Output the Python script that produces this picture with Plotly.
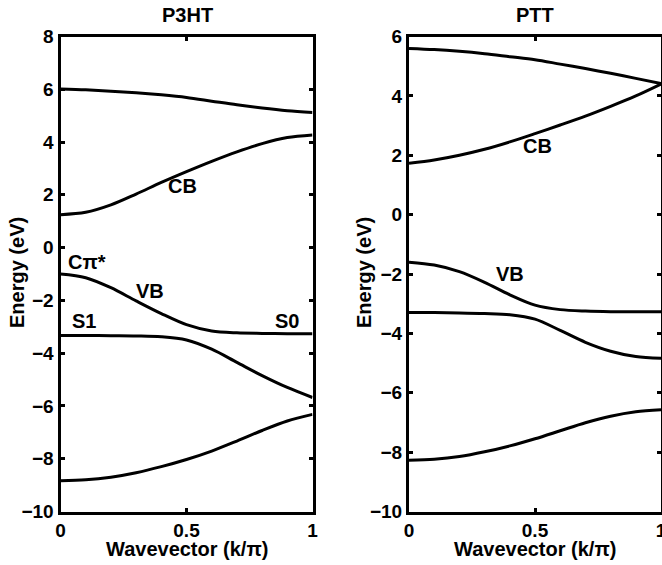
import plotly.graph_objects as go

# Wavevector grid (k/pi)
k = [0.0, 0.1, 0.2, 0.3, 0.4, 0.5, 0.6, 0.7, 0.8, 0.9, 1.0]

# P3HT bands (eV)
p3ht_top = [6.01, 5.98, 5.93, 5.87, 5.79, 5.69, 5.55, 5.41, 5.29, 5.19, 5.12]
p3ht_cb = [1.25, 1.34, 1.62, 2.03, 2.47, 2.88, 3.27, 3.63, 3.94, 4.17, 4.27]
p3ht_vb = [-1.00, -1.14, -1.52, -2.02, -2.50, -2.92, -3.16, -3.23, -3.25, -3.26, -3.26]
p3ht_s1 = [-3.33, -3.33, -3.34, -3.35, -3.38, -3.50, -3.85, -4.35, -4.85, -5.30, -5.68]
p3ht_low = [-8.83, -8.80, -8.70, -8.53, -8.30, -8.03, -7.71, -7.33, -6.93, -6.57, -6.32]

# PTT bands (eV)
ptt_top = [5.60, 5.56, 5.50, 5.42, 5.32, 5.22, 5.07, 4.92, 4.76, 4.59, 4.42]
ptt_cb = [1.73, 1.84, 2.00, 2.20, 2.45, 2.73, 3.02, 3.32, 3.65, 4.00, 4.40]
ptt_vb = [-1.60, -1.70, -1.92, -2.28, -2.70, -3.05, -3.20, -3.25, -3.27, -3.27, -3.27]
ptt_s1 = [-3.30, -3.30, -3.31, -3.33, -3.37, -3.52, -3.90, -4.30, -4.60, -4.78, -4.84]
ptt_low = [-8.27, -8.24, -8.15, -7.99, -7.79, -7.55, -7.28, -7.01, -6.79, -6.64, -6.57]

x_ticks = [0, 0.5, 1]
x_ticktext = ["0", "0.5", "1"]
y_ticks_left = list(range(-10, 9, 2))
y_ticks_right = list(range(-10, 7, 2))

panel_titles = ["P3HT", "PTT"]
x_title = "Wavevector (k/π)"
y_title = "Energy (eV)"

# Band labels: (text, k, E)
left_labels = [("CB", 0.486, 2.33), ("Cπ*", 0.105, -0.55), ("VB", 0.355, -1.65),
               ("S1", 0.093, -2.79), ("S0", 0.90, -2.79)]
right_labels = [("CB", 0.51, 2.31), ("VB", 0.40, -2.0)]

W, H = 662, 565
FONT = "Liberation Sans, Arial, Helvetica, sans-serif"

fig = go.Figure()
for band in [p3ht_top, p3ht_cb, p3ht_vb, p3ht_s1, p3ht_low]:
    fig.add_trace(go.Scatter(x=k, y=band, mode="lines", xaxis="x", yaxis="y",
                             line=dict(color="black", width=3, shape="spline", smoothing=0.9),
                             showlegend=False, hoverinfo="skip"))
for band in [ptt_top, ptt_cb, ptt_vb, ptt_s1, ptt_low]:
    fig.add_trace(go.Scatter(x=k, y=band, mode="lines", xaxis="x2", yaxis="y2",
                             line=dict(color="black", width=3, shape="spline", smoothing=0.9),
                             showlegend=False, hoverinfo="skip"))

# pixel geometry
lx0, lx1 = 60.5, 312.5
rx0, rx1 = 409.0, 661.0
ytop, ybot = 36.5, 511.5

def px(x):
    return x / W

def py(y):
    return 1 - y / H

tickfont = dict(family=FONT, size=19, color="black", weight="bold")
common = dict(showline=True, linewidth=3, linecolor="black", mirror="allticks",
              ticks="inside", ticklen=4, tickwidth=3, tickcolor="black",
              showgrid=False, zeroline=False, tickfont=tickfont, fixedrange=True,
              automargin=False, ticklabeloverflow="allow")

fig.update_layout(
    width=W, height=H, autosize=False,
    margin=dict(l=0, r=0, t=0, b=0, pad=0, autoexpand=False),
    paper_bgcolor="white", plot_bgcolor="white",
    font=dict(family=FONT, color="black"),
    xaxis=dict(domain=[px(lx0), px(lx1)], range=[0, 1], tickvals=x_ticks,
               ticktext=x_ticktext, anchor="y", **common),
    yaxis=dict(domain=[py(ybot), py(ytop)], range=[-10, 8], tickvals=y_ticks_left,
               anchor="x", **common),
    xaxis2=dict(domain=[px(rx0), px(rx1)], range=[0, 1], tickvals=x_ticks,
                ticktext=x_ticktext, anchor="y2", **common),
    yaxis2=dict(domain=[py(ybot), py(ytop)], range=[-10, 6], tickvals=y_ticks_right,
                anchor="x2", **common),
)

annots = []
lab_font = dict(family=FONT, size=20, color="black", weight="bold")
title_font = dict(family=FONT, size=20, color="black", weight="bold")
# panel titles
annots.append(dict(text=panel_titles[0], x=px(187), y=py(15), xref="paper", yref="paper",
                   showarrow=False, font=title_font, xanchor="center", yanchor="middle"))
annots.append(dict(text=panel_titles[1], x=px(535), y=py(15), xref="paper", yref="paper",
                   showarrow=False, font=title_font, xanchor="center", yanchor="middle"))
# axis titles
for cx in [(lx0 + lx1) / 2, (rx0 + rx1) / 2]:
    annots.append(dict(text=x_title, x=px(cx), y=py(549), xref="paper", yref="paper",
                       showarrow=False, font=title_font, xanchor="center", yanchor="middle"))
for cx in [17, 364]:
    annots.append(dict(text=y_title, x=px(cx), y=py(273), xref="paper", yref="paper",
                       showarrow=False, font=title_font, textangle=-90,
                       xanchor="center", yanchor="middle"))
# band labels
for t, kx, e in left_labels:
    annots.append(dict(text=t, x=kx, y=e, xref="x", yref="y", showarrow=False, font=lab_font))
for t, kx, e in right_labels:
    annots.append(dict(text=t, x=kx, y=e, xref="x2", yref="y2", showarrow=False, font=lab_font))

fig.update_layout(annotations=annots)

fig.write_html("out.html", config={"displayModeBar": False},
               post_script="document.body.style.margin='0';document.body.style.overflow='hidden';")
